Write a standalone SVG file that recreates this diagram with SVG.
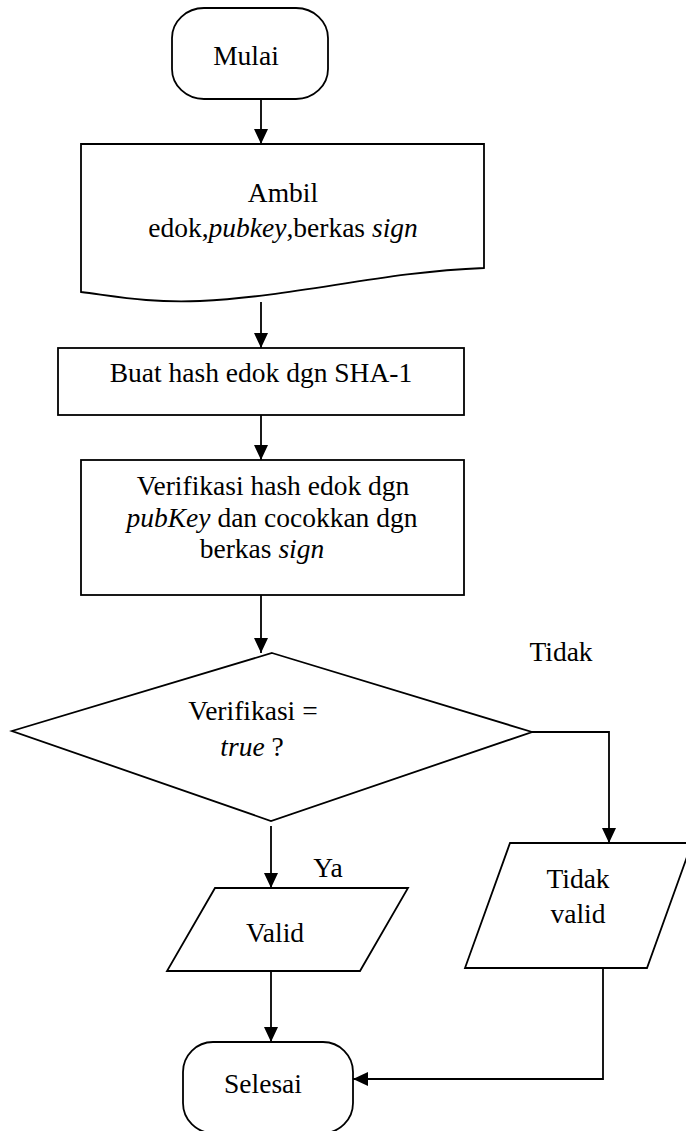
<svg xmlns="http://www.w3.org/2000/svg" width="686" height="1131" viewBox="0 0 686 1131">
  <style>
    .shape { fill: #ffffff; stroke: #000000; stroke-width: 1.8; stroke-linejoin: miter; }
    .wire { fill: none; stroke: #000000; stroke-width: 1.8; }
    .lbl { font-family: "Liberation Serif", "Times New Roman", serif; font-size: 27.5px; fill: #000000; text-anchor: middle; }
    .it { font-style: italic; }
  </style>
  <defs>
    <marker id="arrow" viewBox="0 0 15 14" refX="15" refY="7" markerWidth="15" markerHeight="14" markerUnits="userSpaceOnUse" orient="auto">
      <path d="M0,0 L15,7 L0,14 z" fill="#000000"/>
    </marker>
  </defs>

  <!-- connectors -->
  <g id="connectors">
    <line class="wire" x1="261" y1="99" x2="261" y2="144" marker-end="url(#arrow)"/>
    <line class="wire" x1="261" y1="302" x2="261" y2="348" marker-end="url(#arrow)"/>
    <line class="wire" x1="261" y1="415" x2="261" y2="460" marker-end="url(#arrow)"/>
    <line class="wire" x1="261" y1="595" x2="261" y2="653" marker-end="url(#arrow)"/>
    <line class="wire" x1="271" y1="826" x2="271" y2="888" marker-end="url(#arrow)"/>
    <polyline class="wire" points="532,732 609,732 609,843" marker-end="url(#arrow)"/>
    <line class="wire" x1="271" y1="971" x2="271" y2="1042" marker-end="url(#arrow)"/>
    <polyline class="wire" points="603,968 603,1079 353,1079" marker-end="url(#arrow)"/>
  </g>

  <!-- start terminal -->
  <g id="mulai">
    <rect class="shape" x="172" y="8" width="156" height="91" rx="32" ry="30"/>
    <text class="lbl" x="246" y="65">Mulai</text>
  </g>

  <!-- input document -->
  <g id="ambil">
    <path class="shape" d="M81,144 L484,144 L484,268 C380,272 300,296 200,301 C150,303 120,297 81,292 Z"/>
    <text class="lbl" x="283" y="202">Ambil</text>
    <text class="lbl" x="283" y="237">edok,<tspan class="it">pubkey</tspan>,berkas <tspan class="it">sign</tspan></text>
  </g>

  <!-- hashing step -->
  <g id="hash">
    <rect class="shape" x="58" y="348" width="406" height="67"/>
    <text class="lbl" x="261" y="382">Buat hash edok dgn SHA-1</text>
  </g>

  <!-- verification step -->
  <g id="verifikasi">
    <rect class="shape" x="81" y="460" width="383" height="135"/>
    <text class="lbl" x="273" y="495">Verifikasi hash edok dgn</text>
    <text class="lbl" x="272" y="527"><tspan class="it">pubKey</tspan> dan cocokkan dgn</text>
    <text class="lbl" x="262" y="558">berkas <tspan class="it">sign</tspan></text>
  </g>

  <!-- decision -->
  <g id="keputusan">
    <polygon class="shape" points="272,653 532,732 271,821 12,731"/>
    <text class="lbl" x="253" y="720">Verifikasi =</text>
    <text class="lbl" x="252" y="756"><tspan class="it">true</tspan> ?</text>
  </g>

  <!-- branch labels -->
  <g id="label-tidak">
    <text class="lbl" x="561" y="661">Tidak</text>
  </g>
  <g id="label-ya">
    <text class="lbl" x="328" y="877">Ya</text>
  </g>

  <!-- output: valid -->
  <g id="valid">
    <polygon class="shape" points="215,888 408,888 360,971 167,971"/>
    <text class="lbl" x="275" y="942">Valid</text>
  </g>

  <!-- output: not valid -->
  <g id="tidak-valid">
    <polygon class="shape" points="510,843 692,843 647,968 465,968"/>
    <text class="lbl" x="578" y="888">Tidak</text>
    <text class="lbl" x="578" y="923">valid</text>
  </g>

  <!-- end terminal -->
  <g id="selesai">
    <rect class="shape" x="183" y="1042" width="170" height="91" rx="30" ry="30"/>
    <text class="lbl" x="263" y="1093">Selesai</text>
  </g>
</svg>
